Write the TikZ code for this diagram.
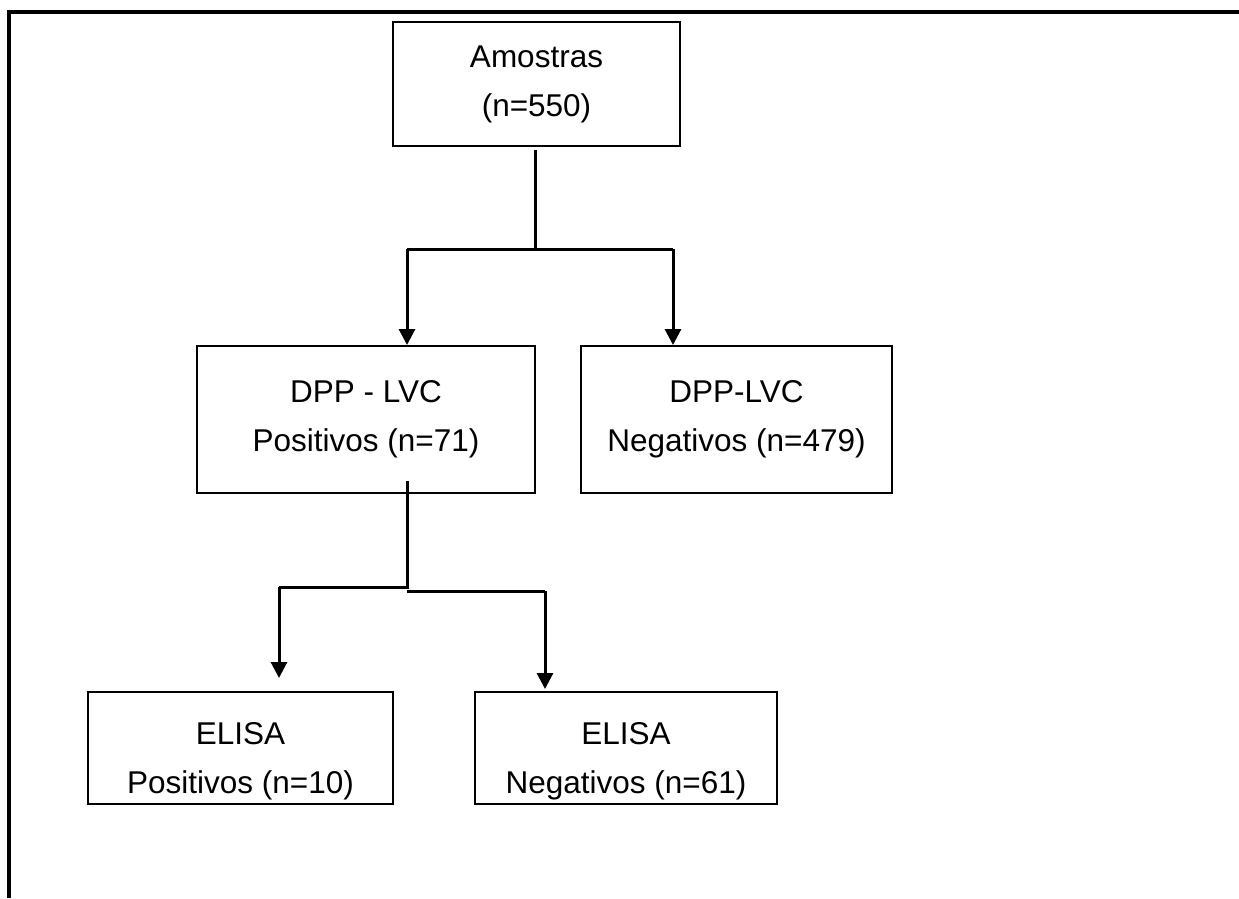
\documentclass[tikz,border=0pt]{standalone}
\usepackage{fontspec}
\setmainfont{Liberation Sans}
\usetikzlibrary{arrows.meta,positioning}

\begin{document}
\begin{tikzpicture}[x=1pt,y=1pt,yscale=-1,xscale=1,
	box/.style={draw, line width=2pt, inner sep=0pt, align=center,
		font=\fontsize{31.5}{49}\selectfont},
	lowbox/.style={box, text height=90pt, text depth=0pt},
	link/.style={line width=3pt},
	arr/.style={link, -{Triangle[width=16pt,length=16pt]}}]
	\useasboundingbox (0,0) rectangle (1239,898);
	
	%Frame
	\draw [line width=3.5pt] (1239,12) -- (9,12) -- (9,898) ;
	
	% Boxes
	\node [box, minimum width=287, minimum height=124] (amostras) at (536.5,84) {Amostras\\(n=550)};
	\node [box, minimum width=338, minimum height=147] (dppPos) at (366,419.5) {DPP - LVC\\Positivos (n=71)};
	\node [box, minimum width=311, minimum height=147] (dppNeg) at (736.5,419.5) {DPP-LVC\\Negativos (n=479)};
	\node [lowbox, minimum width=305, minimum height=112] (elisaPos) at (240.5,748) {ELISA\\Positivos (n=10)};
	\node [lowbox, minimum width=302, minimum height=112] (elisaNeg) at (626,748) {ELISA\\Negativos (n=61)};
	
	% Split points
	\coordinate (splitA) at (535,249);
	\coordinate (splitAl) at (407,249);
	\coordinate (splitAr) at (673,249);
	\coordinate (splitB) at (407,587);
	\coordinate (splitBl) at (279,587);
	\coordinate (splitBr) at (545,591);
	
	% Connectors
	\draw [link] ([yshift=3pt]amostras.south -| splitA) -- (splitA) ;
	\draw [link] (splitAl) -- (splitAr) ;
	\draw [arr] (splitAl) -- (splitAl |- dppPos.north) ;
	\draw [arr] (splitAr) -- (splitAr |- dppNeg.north) ;
	\draw [link] ([yshift=-13pt]dppPos.south -| splitB) -- (splitB) -- (splitBl) ;
	\draw [link] (splitB |- splitBr) -- (splitBr) ;
	\draw [arr] (splitBl) -- ([yshift=-13pt]splitBl |- elisaPos.north) ;
	\draw [arr] (splitBr) -- ([yshift=-2pt]splitBr |- elisaNeg.north) ;
	
\end{tikzpicture}
\end{document}
